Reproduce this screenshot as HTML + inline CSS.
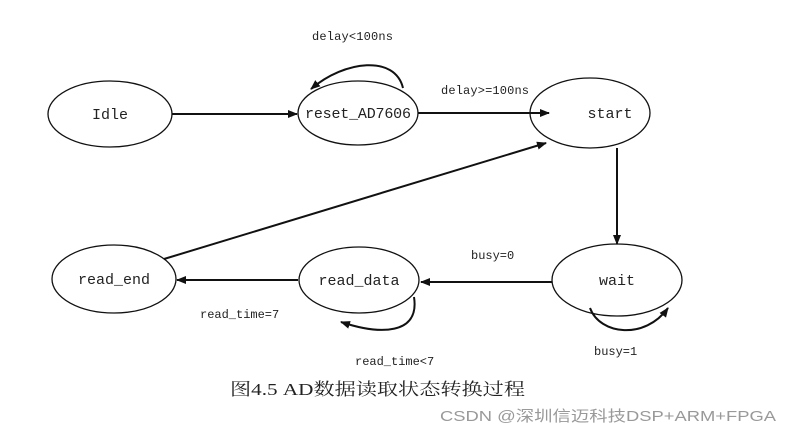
<!DOCTYPE html>
<html><head><meta charset="utf-8"><style>
body{margin:0;background:#fff;width:791px;height:435px;overflow:hidden}
svg text{font-family:"Liberation Mono","Noto Serif CJK SC",monospace;fill:#222}
</style></head><body>
<svg width="791" height="435" viewBox="0 0 791 435">
<defs><marker id="a" markerWidth="10" markerHeight="8" refX="9" refY="4" orient="auto" markerUnits="userSpaceOnUse"><path d="M0,0 L10,4 L0,8 z" fill="#111"/></marker></defs>
<g fill="none" stroke="#111" stroke-width="1.3">
<ellipse cx="110" cy="114" rx="62" ry="33"/>
<ellipse cx="358" cy="113" rx="60" ry="32"/>
<ellipse cx="590" cy="113" rx="60" ry="35"/>
<ellipse cx="617" cy="280" rx="65" ry="36"/>
<ellipse cx="359" cy="280" rx="60" ry="33"/>
<ellipse cx="114" cy="279" rx="62" ry="34"/>
</g>
<g fill="none" stroke="#111" stroke-width="2" marker-end="url(#a)">
<path d="M172,114 L297,114"/>
<path d="M418,113 L549,113"/>
<path d="M617,148 L617,244"/>
<path d="M552,282 L421,282"/>
<path d="M298,280 L177,280"/>
<path d="M164,259 L546,143"/>
<path d="M403,88 C395,55 345,60 311,89"/>
<path d="M590,308 C600,335 645,340 668,308"/>
<path d="M414,297 C420,335 380,335 341,322"/>
</g>
<g font-size="15" text-anchor="middle">
<text x="110" y="119">Idle</text>
<text x="358" y="118" textLength="106">reset_AD7606</text>
<text x="610" y="118">start</text>
<text x="617" y="285">wait</text>
<text x="359" y="285">read_data</text>
<text x="114" y="284">read_end</text>
</g>
<g font-size="12">
<text x="312" y="40" textLength="81">delay&lt;100ns</text>
<text x="441" y="94" textLength="88">delay&gt;=100ns</text>
<text x="471" y="259">busy=0</text>
<text x="594" y="355">busy=1</text>
<text x="200" y="318">read_time=7</text>
<text x="355" y="365">read_time&lt;7</text>
</g>
<text x="230" y="395" font-size="17" textLength="295" lengthAdjust="spacingAndGlyphs" style="font-family:'Liberation Serif','Noto Serif CJK SC',serif">图4.5 AD数据读取状态转换过程</text>
<text x="440" y="421" font-size="15" textLength="336" lengthAdjust="spacingAndGlyphs" style="font-family:'Liberation Sans','Noto Sans CJK SC',sans-serif;fill:#999">CSDN @深圳信迈科技DSP+ARM+FPGA</text>
</svg>
</body></html>
